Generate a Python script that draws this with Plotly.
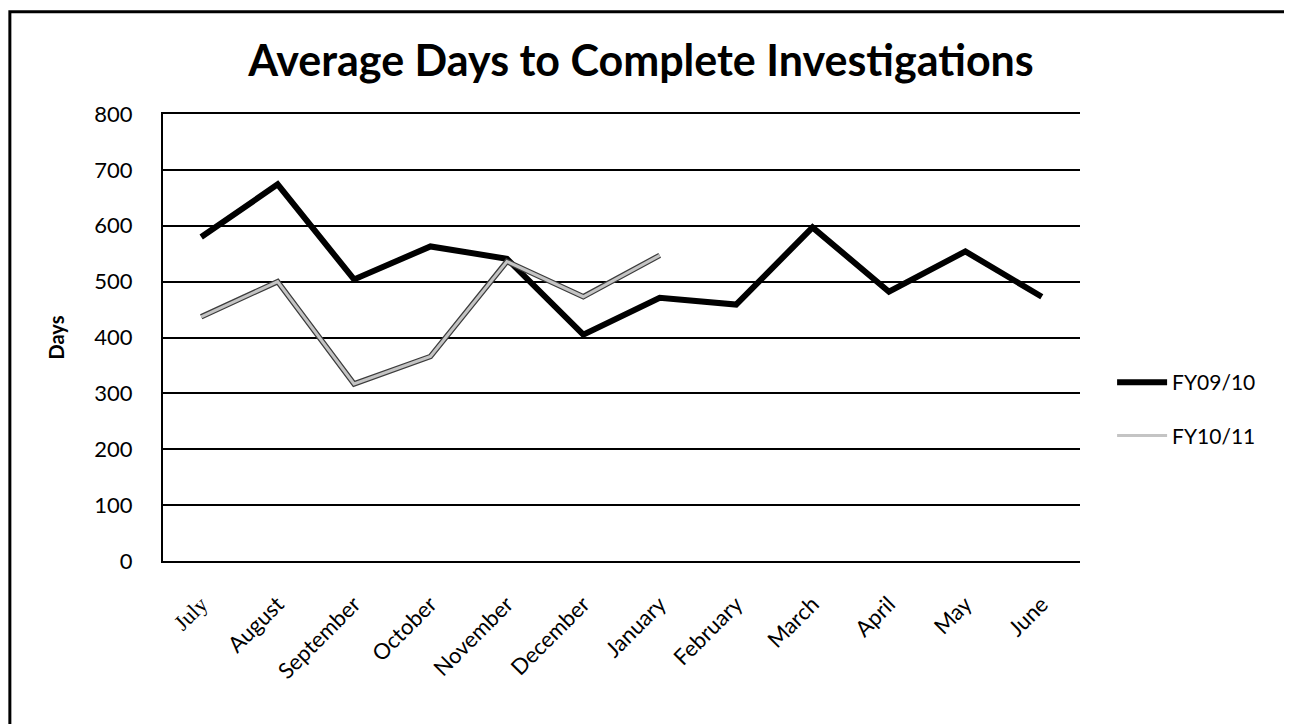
import plotly.graph_objects as go

months = ["July", "August", "September", "October", "November", "December",
          "January", "February", "March", "April", "May", "June"]
fy0910 = [580, 674, 504, 563, 541, 405, 471, 459, 597, 482, 554, 473]
fy1011 = [437, 500, 317, 366, 536, 473, 547]
y_ticks = [0, 100, 200, 300, 400, 500, 600, 700, 800]

FONT = "Lato, 'Open Sans', sans-serif"

tick_text = ["<span style=\"font-family:'Liberation Serif', serif\">July</span>"] + months[1:]

fig = go.Figure()
fig.add_trace(go.Scatter(
    x=months, y=fy0910, mode="lines", name="FY09/10",
    legendgroup="a", line=dict(color="#000000", width=6),
))
# outline for the grey series, drawn under the light stroke
fig.add_trace(go.Scatter(
    x=months[:len(fy1011)], y=fy1011, mode="lines", name="FY10/11",
    legendgroup="b", showlegend=False, line=dict(color="#3c3c3c", width=5.5),
))
fig.add_trace(go.Scatter(
    x=months[:len(fy1011)], y=fy1011, mode="lines", name="FY10/11",
    legendgroup="b", line=dict(color="#c4c4c4", width=3),
))

fig.update_layout(
    width=1292,
    height=724,
    title=dict(
        text="<b>Average Days to Complete Investigations</b>",
        x=633 / 1292, xref="container", xanchor="center",
        y=1 - 53 / 724, yref="container", yanchor="middle",
        font=dict(family=FONT, size=43, color="#000000"),
    ),
    plot_bgcolor="white",
    paper_bgcolor="white",
    font=dict(family=FONT, size=22, color="#000000"),
    margin=dict(l=155, r=220, t=106, b=171),
    showlegend=True,
    legend=dict(
        x=1.035, y=0.445, xanchor="left", yanchor="top",
        traceorder="grouped", tracegroupgap=23,
        itemwidth=50,
        font=dict(family=FONT, size=21, color="#000000"),
        bgcolor="rgba(0,0,0,0)",
    ),
    shapes=[dict(
        type="rect", xref="paper", yref="paper",
        x0=-0.167, x1=1.3, y0=-0.5, y1=1.229,
        line=dict(color="#000000", width=3),
    )],
)

fig.update_xaxes(
    type="category",
    range=[-0.5, 11.5],
    tickvals=months,
    ticktext=tick_text,
    tickangle=-45,
    ticklabelstandoff=20,
    showgrid=False,
    showline=True,
    mirror=True,
    linecolor="#000000",
    linewidth=1.5,
    zeroline=False,
    tickfont=dict(family=FONT, size=22),
)
fig.update_yaxes(
    range=[0, 800],
    tickvals=y_ticks,
    showgrid=True,
    gridcolor="#000000",
    gridwidth=1.5,
    showline=True,
    linecolor="#000000",
    linewidth=2,
    zeroline=False,
    ticklabelstandoff=24,
    title=dict(text="<b>Days</b>", font=dict(family=FONT, size=20), standoff=24),
    tickfont=dict(family=FONT, size=22),
)

fig.write_html("out.html")
